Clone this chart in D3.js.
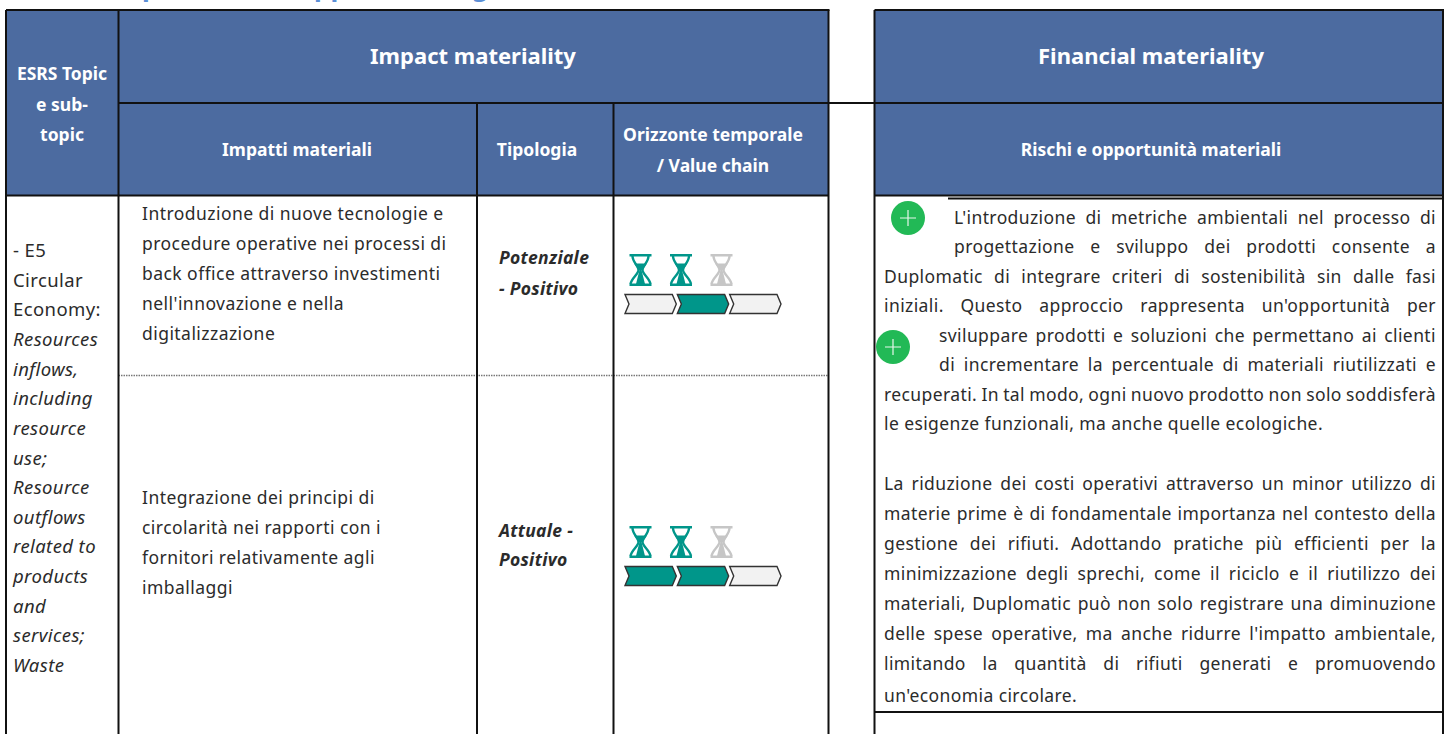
<!DOCTYPE html>
<html>
<head>
<meta charset="utf-8">
<script src="https://cdn.jsdelivr.net/npm/d3@7"></script>
<style>
  html, body { margin: 0; background: #fff; overflow: hidden; }
  text { font-family: "Noto Sans", sans-serif; }
</style>
</head>
<body>
<div id="area"></div>
<script>
const width = 1450;
const height = 735;

// Table contents
const topicLines = ["- E5", "Circular", "Economy:", "Resources", "inflows,", "including", "resource", "use;", "Resource", "outflows", "related to", "products", "and", "services;", "Waste"];
const topicItalicFrom = 3;
const impactLines = [
  ["Introduzione di nuove tecnologie e", "procedure operative nei processi di", "back office attraverso investimenti", "nell'innovazione e nella", "digitalizzazione"],
  ["Integrazione dei principi di", "circolarità nei rapporti con i", "fornitori relativamente agli", "imballaggi"],
];
const typeLines = [
  ["Potenziale", "- Positivo"],
  ["Attuale -", "Positivo"],
];
const stages = ["a", "b", "c"];
const hourglassOn = [
  [1, 1, 0],
  [1, 1, 0],
];
const chainOn = [
  [0, 1, 0],
  [1, 1, 0],
];
// [text, justified, indented]
const riskLines = [
  ["L'introduzione di metriche ambientali nel processo di", true, 2],
  ["progettazione e sviluppo dei prodotti consente a", true, 2],
  ["Duplomatic di integrare criteri di sostenibilità sin dalle fasi", true, 0],
  ["iniziali. Questo approccio rappresenta un'opportunità per", true, 0],
  ["sviluppare prodotti e soluzioni che permettano ai clienti", true, 1],
  ["di incrementare la percentuale di materiali riutilizzati e", true, 1],
  ["recuperati. In tal modo, ogni nuovo prodotto non solo soddisferà", true, 0],
  ["le esigenze funzionali, ma anche quelle ecologiche.", false, 0],
  ["", false, 0],
  ["La riduzione dei costi operativi attraverso un minor utilizzo di", true, 0],
  ["materie prime è di fondamentale importanza nel contesto della", true, 0],
  ["gestione dei rifiuti. Adottando pratiche più efficienti per la", true, 0],
  ["minimizzazione degli sprechi, come il riciclo e il riutilizzo dei", true, 0],
  ["materiali, Duplomatic può non solo registrare una diminuzione", true, 0],
  ["delle spese operative, ma anche ridurre l'impatto ambientale,", true, 0],
  ["limitando la quantità di rifiuti generati e promuovendo", true, 0],
  ["un'economia circolare.", false, 0],
];

const blue = "#4c6ba0";
const teal = "#00968a";
const ink = "#2b2b2b";

const svg = d3
  .select("#area")
  .append("svg")
  .attr("width", width)
  .attr("height", height)
  .style("display", "block");

// Column edges
const xLeft = 6, xTopic = 118.5, xImpact = 477, xType = 613.5, xRight = 828.5, xFin = 874.5, xEnd = 1443;
const yTop = 10, yMid = 103, yHead = 195.5, yRow = 375.5, yEnd = 734;

// Header fills
[[xLeft, xRight], [xFin, xEnd]].forEach(([a, b]) => {
  svg.append("rect").attr("x", a).attr("y", yTop).attr("width", b - a).attr("height", yHead - yTop).attr("fill", blue);
});

// Cropped title above the table: only the descenders are left in the picture
svg.selectAll("text.title")
  .data([["p", 142], ["pp", 314], ["g", 472]])
  .join("text")
  .attr("class", "title")
  .attr("x", (d) => d[1])
  .attr("y", -4)
  .attr("font-size", 26)
  .attr("font-weight", 700)
  .attr("fill", "#5b8fd6")
  .text((d) => d[0]);

// Row divider
svg.append("line")
  .attr("x1", xTopic).attr("x2", xRight).attr("y1", yRow).attr("y2", yRow)
  .attr("stroke", "#777").attr("stroke-width", 1.5).attr("stroke-dasharray", "1.5 1");

// Grid lines
const rules = [
  [xLeft, yTop, xRight + 1, yTop],
  [xFin, yTop, xEnd + 1, yTop],
  [xTopic, yMid, xEnd, yMid],
  [xLeft, yHead, xRight, yHead],
  [xFin, yHead, xEnd, yHead],
  [948, 198.5, xEnd, 198.5],
  [xFin, 712, xEnd, 712],
  [xLeft, yTop, xLeft, yEnd],
  [xTopic, yTop, xTopic, yEnd],
  [xImpact, yMid, xImpact, yEnd],
  [xType, yMid, xType, yEnd],
  [xRight, yTop, xRight, yEnd],
  [xFin, yTop, xFin, yEnd],
  [xEnd, yTop, xEnd, yEnd],
];
svg.selectAll("line.rule")
  .data(rules)
  .join("line")
  .attr("class", "rule")
  .attr("x1", (d) => d[0]).attr("y1", (d) => d[1])
  .attr("x2", (d) => d[2]).attr("y2", (d) => d[3])
  .attr("stroke", "#111").attr("stroke-width", 2);

// Header labels
const heads = [
  ["ESRS Topic", 62, 80, 17.5],
  ["e sub-", 62, 111, 17.5],
  ["topic", 62, 141, 17.5],
  ["Impact materiality", 473, 64, 22],
  ["Financial materiality", 1151, 64, 22],
  ["Impatti materiali", 297, 156, 17.5],
  ["Tipologia", 537, 156, 17.5],
  ["Orizzonte temporale", 713, 141, 17.5],
  ["/ Value chain", 713, 172, 17.5],
  ["Rischi e opportunità materiali", 1151, 156, 17.5],
];
svg.selectAll("text.head")
  .data(heads)
  .join("text")
  .attr("class", "head")
  .attr("x", (d) => d[1]).attr("y", (d) => d[2])
  .attr("font-size", (d) => d[3])
  .attr("font-weight", 700)
  .attr("fill", "#fff")
  .attr("text-anchor", "middle")
  .text((d) => d[0]);

// Topic column
const topicY = d3.scaleLinear().domain([0, topicLines.length - 1]).range([257, 672]);
svg.selectAll("text.topic")
  .data(topicLines)
  .join("text")
  .attr("class", "topic")
  .attr("x", 13)
  .attr("y", (d, i) => topicY(i))
  .attr("font-size", 18.5)
  .attr("letter-spacing", 0.4)
  .attr("font-style", (d, i) => (i >= topicItalicFrom ? "italic" : "normal"))
  .attr("fill", ink)
  .text((d) => d);

// Impact column
const impactStart = [220, 504];
const impactStep = 30;
impactLines.forEach((lines, r) => {
  svg.append("g").selectAll("text")
    .data(lines)
    .join("text")
    .attr("x", 142)
    .attr("y", (d, i) => impactStart[r] + i * impactStep)
    .attr("font-size", 17.5)
    .attr("letter-spacing", 0.45)
    .attr("fill", ink)
    .text((d) => d);
});

// Type column
const typeStart = [[264, 295], [537, 566]];
typeLines.forEach((lines, r) => {
  svg.append("g").selectAll("text")
    .data(lines)
    .join("text")
    .attr("x", 499)
    .attr("y", (d, i) => typeStart[r][i])
    .attr("font-size", 17.5)
    .attr("letter-spacing", 0.3)
    .attr("font-weight", 700)
    .attr("font-style", "italic")
    .attr("fill", ink)
    .text((d) => d);
});

// Hourglasses and value chain chevrons
const glassX = d3.scalePoint().domain(stages).range([640.5, 721.5]);
const chainX = d3.scaleBand().domain(stages).range([625, 781]).paddingInner(0.02);
const glassY = [270, 542];
const chainY = [294.5, 566.5];
const chainH = 19;

function drawGlass(g, color) {
  // top and bottom caps
  g.append("path").attr("fill", color).attr("d", "M-11-16H11V-13.5H-11Z M-11 13.5H11V16H-11Z");
  // frame
  g.append("path").attr("fill", "none").attr("stroke", color).attr("stroke-width", 2.4)
    .attr("d", "M-8-14C-8-8-2-4-2 0C-2 4-9 8-10 14M8-14C8-8 2-4 2 0C2 4 9 8 10 14");
  // sand
  g.append("path").attr("fill", color).attr("d", "M-6.5-6.5H6.5L2 0H-2Z M-1 0H1L4.5 14H-4.5Z");
}

hourglassOn.forEach((row, r) => {
  row.forEach((on, i) => {
    const g = svg.append("g").attr("transform", `translate(${glassX(stages[i])},${glassY[r]})`);
    drawGlass(g, on ? teal : "#c6c6c6");
  });
  chainOn[r].forEach((on, i) => {
    const w = chainX.bandwidth();
    const x0 = chainX(stages[i]);
    const p = d3.path();
    p.moveTo(x0, chainY[r]);
    p.lineTo(x0 + w - 4, chainY[r]);
    p.lineTo(x0 + w, chainY[r] + chainH / 2);
    p.lineTo(x0 + w - 4, chainY[r] + chainH);
    p.lineTo(x0, chainY[r] + chainH);
    p.lineTo(x0 + 4, chainY[r] + chainH / 2);
    p.closePath();
    svg.append("path")
      .attr("d", p.toString())
      .attr("fill", on ? teal : "#f2f2f2")
      .attr("stroke", "#333")
      .attr("stroke-width", 1.4);
  });
});

// Risks column, justified by hand
const riskLeft = [884, 939, 954];
const riskRightEdge = 1436;
const riskY = d3.scaleLinear().domain([0, 7, 9, 15, 16]).range([224, 430, 490, 670, 702]);
riskLines.forEach((d, i) => {
  if (!d[0]) return;
  const left = riskLeft[d[2]];
  const t = svg.append("text")
    .attr("x", left)
    .attr("y", riskY(i))
    .attr("font-size", 17.5)
    .attr("letter-spacing", 0.4)
    .attr("fill", ink)
    .text(d[0]);
  if (d[1]) {
    const gaps = d[0].split(" ").length - 1;
    const spare = riskRightEdge - left - t.node().getComputedTextLength();
    t.attr("word-spacing", spare / gaps);
  }
});

// Green plus badges
[[908, 218], [893, 347]].forEach(([cx, cy]) => {
  const g = svg.append("g").attr("transform", `translate(${cx},${cy})`);
  g.append("circle").attr("r", 17).attr("fill", "#22b956");
  g.append("path").attr("d", "M-8 0H8M0-8V8").attr("stroke", "#e8f7ec").attr("stroke-width", 1.2);
});
</script>
</body>
</html>
